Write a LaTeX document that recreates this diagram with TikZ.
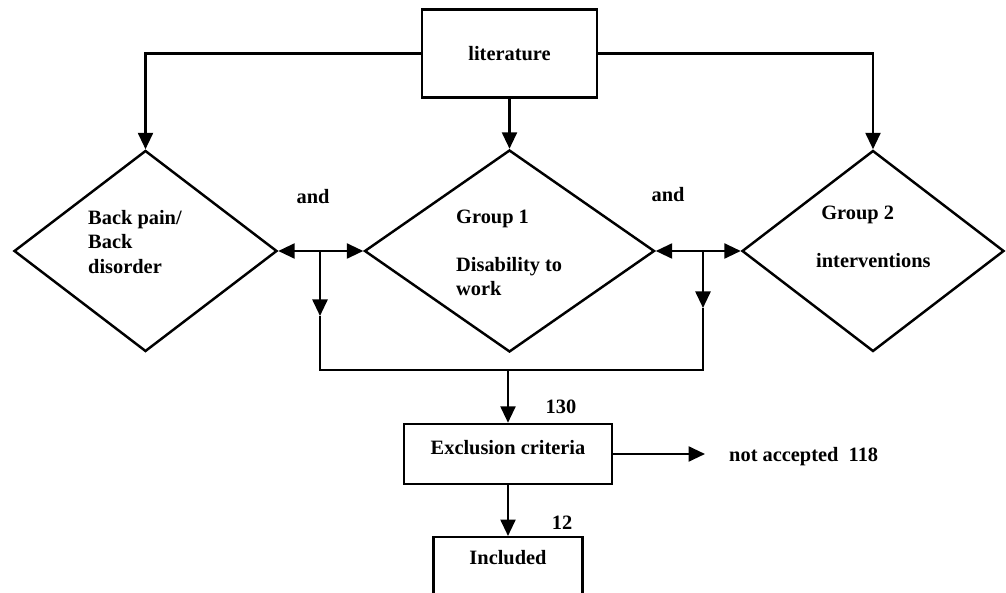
\documentclass[tikz,border=0pt]{standalone}
\usepackage{fontspec}
\setmainfont{Liberation Serif}
\usetikzlibrary{arrows.meta,positioning,shapes.geometric}
\tikzset{
  doboz/.style={draw,rectangle,inner sep=0pt,align=center},
  rombusz/.style={draw,diamond,inner sep=0pt},
  felirat/.style={inner sep=0pt,align=left},
  nyil/.style={-{Triangle[length=3.3mm,width=3mm]}},
  kettos/.style={{Triangle[length=3.3mm,width=3mm]}-{Triangle[length=3.3mm,width=3mm]}},
}
\begin{document}
\begin{tikzpicture}[x=0.2mm,y=-0.2mm,line width=1.4pt,
    font=\fontsize{11.6pt}{13.7pt}\selectfont\bfseries]
  \clip (0,0) rectangle (1006,593);
  % source and the three search terms
  \node[doboz,minimum width=35mm,minimum height=17.6mm] (lit) at (509.5,53.5) {literature};
  \node[rombusz,minimum width=52.6mm,minimum height=40.2mm] (bp) at (145.5,251) {};
  \node[rombusz,minimum width=58mm,minimum height=40.4mm] (g1) at (509.5,251) {};
  \node[rombusz,minimum width=52.4mm,minimum height=40.2mm] (g2) at (873,251) {};
  \node[felirat,anchor=west] (bpt) at (87,242) {Back pain/\\Back\\disorder};
  \node[felirat,anchor=west] (g1t) at (455,253) {Group 1\\[\baselineskip]Disability to\\work};
  \node[felirat,anchor=west] (g2t) at (815,237) {\ Group 2\\[\baselineskip]interventions};
  \node[felirat] (and1) at (313,197) {and};
  \node[felirat] (and2) at (668,195) {and};
  \draw[nyil] (lit.west) -| (bp.north);
  \draw[nyil] (lit.south) -- (g1.north);
  \draw[nyil] (lit.east) -| (g2.north);
  % combining the terms
  \draw[kettos] (bp.east) -- (g1.west);
  \draw[kettos] (g1.east) -- (g2.west);
  \coordinate (j1) at (320,251);  \coordinate (t1) at (320,316);  \coordinate (c1) at (320,370);
  \coordinate (j2) at (703,251);  \coordinate (t2) at (703,308);  \coordinate (c2) at (703,370);
  \draw[nyil] (j1) -- (t1);
  \draw[nyil] (j2) -- (t2);
  \draw (t1) -- (c1) -- (c2) -- (t2);
  % selection
  \node[doboz,minimum width=41.6mm,minimum height=12mm,text depth=2.8mm] (exc) at (508,454) {Exclusion criteria};
  \node[doboz,anchor=north,minimum width=29.8mm,minimum height=16mm,text depth=8mm] (inc) at (508,536) {Included};
  \node[felirat,anchor=west] (na) at (728,457) {not accepted\ \ 118};
  \node[felirat] (n130) at (561,407) {130};
  \node[felirat] (n12) at (562,523) {12};
  \draw[nyil] (exc.north |- c1) -- (exc.north);
  \draw[nyil] (exc.south) -- (inc.north);
  \draw[nyil,shorten >=4.6mm] (exc.east) -- (exc.east -| na.west);
\end{tikzpicture}
\end{document}
